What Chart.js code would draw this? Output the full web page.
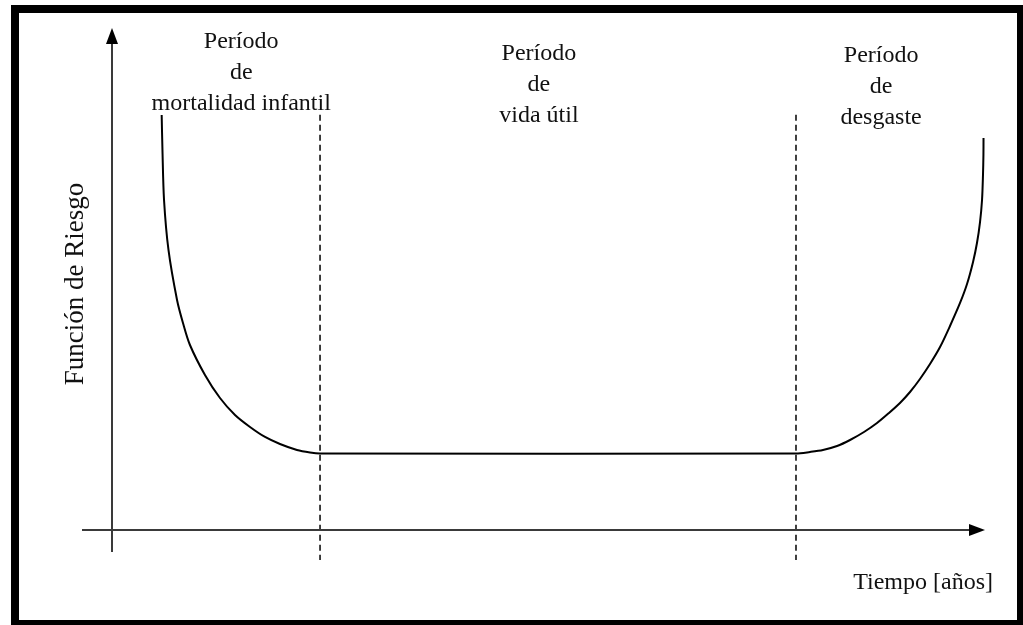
<!DOCTYPE html>
<html>
<head>
<meta charset="utf-8">
<script src="https://cdn.jsdelivr.net/npm/chart.js@4"></script>
<style>
  html, body { margin: 0; padding: 0; background: #fff; }
  #wrap { position: relative; width: 1023px; height: 625px; overflow: hidden; }
  #frame { position: absolute; left: 11px; top: 5px; width: 1012px; height: 620px;
           box-sizing: border-box; border: solid #000; border-width: 8px 6px 5px 8px; }
  canvas { position: absolute; left: 0; top: 0; }
</style>
</head>
<body>
<div id="wrap">
  <div id="frame"></div>
  <canvas id="myChart" width="1023" height="625"></canvas>
</div>
<script>
// curva de la bañera (tiempo vs función de riesgo, unidades arbitrarias)
const tiempo = [5.69, 5.78, 5.96, 6.47, 7.45, 8.13, 8.93, 10.65, 12.37, 14.09, 15.81, 17.53, 19.24, 21.19, 22.68, 23.83,
                78.35, 79.95, 81.44, 83.05, 84.54, 86.14, 87.63, 89.0, 90.26, 91.41, 92.55, 93.7, 94.85,
                95.99, 97.14, 97.94, 98.63, 99.08, 99.43, 99.66, 99.77, 99.82, 99.83]
const riesgo = [82.67, 75.7, 65.74, 55.78, 45.82, 41.24, 36.85, 30.88, 26.29, 22.91, 20.52, 18.53, 17.13, 15.94, 15.44, 15.24,
                15.24, 15.54, 15.94, 16.73, 17.93, 19.52, 21.31, 23.31, 25.3, 27.49, 30.08, 33.07, 36.45,
                40.64, 45.22, 49.0, 53.39, 57.17, 61.35, 65.74, 70.72, 74.7, 78.09]

const limites = [23.83, 78.35]       // fin de mortalidad infantil, inicio de desgaste
const limiteY = [82.7, -6]           // extension vertical de las lineas punteadas

const periodos = [
  ['Período', 'de', 'mortalidad infantil'],
  ['Período', 'de', 'vida útil'],
  ['Período', 'de', 'desgaste']
]
const periodosX = [14.8, 48.9, 88.1]
const tituloX = 'Tiempo [años]'
const tituloY = 'Función de Riesgo'

const ctx = document.getElementById('myChart').getContext('2d')

const curva = tiempo.map((t, i) => ({ x: t, y: riesgo[i] }))

const datasets = [{
  data: curva,
  borderColor: '#000',
  borderWidth: 2,
  pointRadius: 0,
  fill: false,
  tension: 0.3
}]
limites.forEach(l => {
  datasets.push({
    data: [{ x: l, y: limiteY[0] }, { x: l, y: limiteY[1] }],
    borderColor: '#111',
    borderWidth: 1.6,
    borderDash: [6, 4],
    pointRadius: 0,
    fill: false,
    clip: false
  })
})

const ejes = {
  id: 'ejes',
  afterDatasetsDraw(chart) {
    const c = chart.ctx
    const xs = chart.scales.x, ys = chart.scales.y
    const x0 = xs.getPixelForValue(0), y0 = ys.getPixelForValue(0)
    const xEnd = xs.getPixelForValue(100), yEnd = ys.getPixelForValue(100)
    c.save()
    c.strokeStyle = '#3a3a3a'
    c.fillStyle = '#000'
    c.lineWidth = 2
    // eje y
    c.beginPath()
    c.moveTo(x0, y0 + 22)
    c.lineTo(x0, yEnd + 14)
    c.stroke()
    c.beginPath()
    c.moveTo(x0, yEnd)
    c.lineTo(x0 - 6, yEnd + 16)
    c.lineTo(x0 + 6, yEnd + 16)
    c.closePath()
    c.fill()
    // eje x
    c.beginPath()
    c.moveTo(x0 - 30, y0)
    c.lineTo(xEnd - 14, y0)
    c.stroke()
    c.beginPath()
    c.moveTo(xEnd, y0)
    c.lineTo(xEnd - 16, y0 - 6)
    c.lineTo(xEnd - 16, y0 + 6)
    c.closePath()
    c.fill()

    // textos
    c.fillStyle = '#111'
    c.font = '24px "Liberation Serif", "Times New Roman", serif'
    c.textAlign = 'center'
    c.textBaseline = 'alphabetic'
    const topes = [48, 60, 62]
    periodos.forEach((lineas, i) => {
      const px = xs.getPixelForValue(periodosX[i])
      lineas.forEach((t, j) => c.fillText(t, px, topes[i] + j * 31))
    })
    c.textAlign = 'right'
    c.fillText(tituloX, 993, 589)

    c.translate(83, 284)
    c.rotate(-Math.PI / 2)
    c.textAlign = 'center'
    c.font = '27px "Liberation Serif", "Times New Roman", serif'
    c.fillText(tituloY, 0, 0)
    c.restore()
  }
}

const config = {
  type: 'line',
  data: { datasets },
  options: {
    responsive: false,
    animation: false,
    layout: { padding: { left: 112, right: 38, top: 28, bottom: 95 } },
    plugins: { legend: { display: false }, tooltip: { enabled: false } },
    scales: {
      x: { type: 'linear', min: 0, max: 100, display: false },
      y: { type: 'linear', min: 0, max: 100, display: false }
    }
  },
  plugins: [ejes]
}

const myChart = new Chart(ctx, config)
</script>
</body>
</html>
